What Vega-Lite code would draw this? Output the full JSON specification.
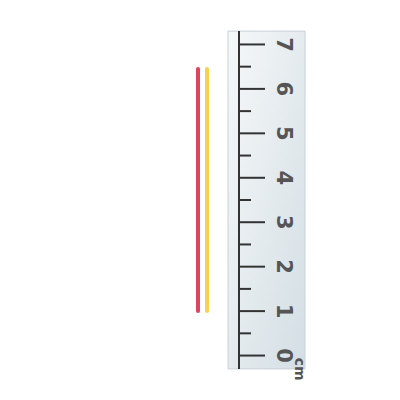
{
  "$schema": "https://vega.github.io/schema/vega-lite/v6.json",
  "width": 400,
  "height": 400,
  "autosize": {"type": "fit", "contains": "padding"},
  "padding": 0,
  "config": {"view": {"stroke": null}},
  "datasets": {
    "ruler": [{"x": 228, "x2": 305, "y": -0.3, "y2": 7.3, "sx": 239}],
    "ticks": [
      {"cm": 0, "x": 239, "len": 265}, {"cm": 0.5, "x": 239, "len": 251}, {"cm": 1, "x": 239, "len": 265}, {"cm": 1.5, "x": 239, "len": 251},
      {"cm": 2, "x": 239, "len": 265}, {"cm": 2.5, "x": 239, "len": 251}, {"cm": 3, "x": 239, "len": 265}, {"cm": 3.5, "x": 239, "len": 251},
      {"cm": 4, "x": 239, "len": 265}, {"cm": 4.5, "x": 239, "len": 251}, {"cm": 5, "x": 239, "len": 265}, {"cm": 5.5, "x": 239, "len": 251},
      {"cm": 6, "x": 239, "len": 265}, {"cm": 6.5, "x": 239, "len": 251}, {"cm": 7, "x": 239, "len": 265}
    ],
    "labels": [
      {"cm": 0, "x": 283, "label": "0"}, {"cm": 1, "x": 283, "label": "1"}, {"cm": 2, "x": 283, "label": "2"}, {"cm": 3, "x": 283, "label": "3"},
      {"cm": 4, "x": 283, "label": "4"}, {"cm": 5, "x": 283, "label": "5"}, {"cm": 6, "x": 283, "label": "6"}, {"cm": 7, "x": 283, "label": "7"}
    ],
    "unit": [{"cm": -0.05, "x": 299, "t": "cm"}],
    "sticks": [
      {"name": "red", "x": 198, "start": 1, "end": 6.45},
      {"name": "yellow", "x": 207, "start": 1, "end": 6.45}
    ]
  },
  "layer": [
    {
      "data": {"name": "ruler"},
      "mark": {
        "type": "rect",
        "stroke": "#c8d2d8",
        "strokeWidth": 1,
        "fill": {
          "gradient": "linear", "x1": 0, "y1": 0, "x2": 1, "y2": 1,
          "stops": [{"offset": 0, "color": "#f6f8f9"}, {"offset": 1, "color": "#d3dee4"}]
        }
      },
      "encoding": {
        "x": {"field": "x", "type": "quantitative", "scale": {"domain": [0, 400]}, "axis": null},
        "x2": {"field": "x2"},
        "y": {"field": "y", "type": "quantitative", "scale": {"domain": [-0.22, 7.19]}, "axis": null},
        "y2": {"field": "y2"}
      }
    },
    {
      "data": {"name": "ruler"},
      "mark": {"type": "rule", "color": "#333", "strokeWidth": 2},
      "encoding": {
        "x": {"field": "sx", "type": "quantitative", "axis": null},
        "y": {"field": "y", "type": "quantitative", "axis": null},
        "y2": {"field": "y2"}
      }
    },
    {
      "data": {"name": "ticks"},
      "mark": {"type": "rule", "color": "#333", "strokeWidth": 2},
      "encoding": {
        "y": {"field": "cm", "type": "quantitative", "axis": null},
        "x": {"field": "x", "type": "quantitative", "axis": null},
        "x2": {"field": "len"}
      }
    },
    {
      "data": {"name": "labels"},
      "mark": {"type": "text", "angle": 90, "fontSize": 21, "fontWeight": "bold", "font": "DejaVu Sans", "color": "#555", "align": "center", "baseline": "middle"},
      "encoding": {
        "y": {"field": "cm", "type": "quantitative", "axis": null},
        "x": {"field": "x", "type": "quantitative", "axis": null},
        "text": {"field": "label"}
      }
    },
    {
      "data": {"name": "unit"},
      "mark": {"type": "text", "angle": 90, "fontSize": 14, "fontWeight": "bold", "font": "DejaVu Sans", "color": "#555", "align": "left", "baseline": "middle"},
      "encoding": {
        "y": {"field": "cm", "type": "quantitative", "axis": null},
        "x": {"field": "x", "type": "quantitative", "axis": null},
        "text": {"field": "t"}
      }
    },
    {
      "data": {"name": "sticks"},
      "mark": {"type": "rule", "strokeWidth": 4, "strokeCap": "round"},
      "encoding": {
        "x": {"field": "x", "type": "quantitative", "axis": null},
        "y": {"field": "start", "type": "quantitative", "axis": null},
        "y2": {"field": "end"},
        "color": {"field": "name", "type": "nominal", "scale": {"domain": ["red", "yellow"], "range": ["#dc4560", "#f7d24a"]}, "legend": null}
      }
    }
  ]
}
